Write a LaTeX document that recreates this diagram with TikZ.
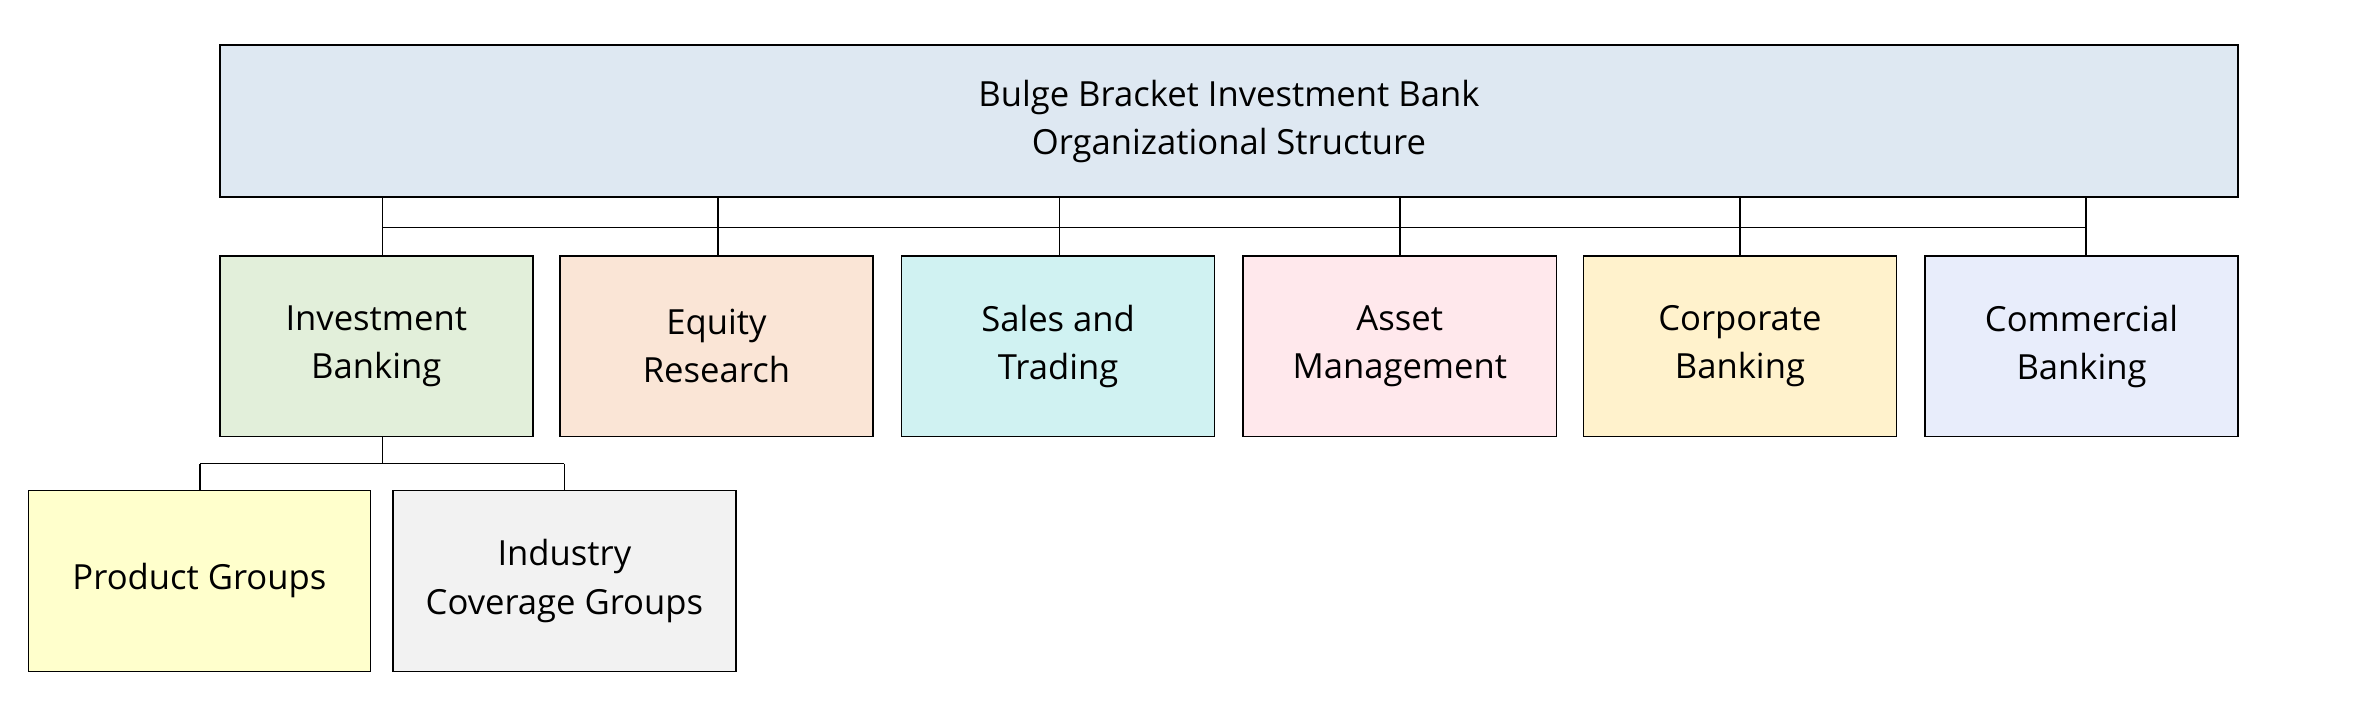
\documentclass[tikz,border=0pt]{standalone}
\usepackage{fontspec}
\setmainfont{Open Sans}
\begin{document}
\begin{tikzpicture}[x=0.5pt,y=-0.5pt,
 box/.style={draw=black,line width=0.5pt,inner sep=0pt,align=center,font=\fontsize{11.5}{16}\selectfont},
 conn/.style={draw=black,line width=0.5pt}]
\useasboundingbox (0,0) rectangle (1568,478);
\node[box,fill={rgb,255:red,222;green,232;blue,242},minimum width=670.5pt,minimum height=50.5pt] (top) at (816.5,80.5) {Bulge Bracket Investment Bank\\Organizational Structure};
\newcommand{\rowbox}[4]{\node[box,fill={rgb,255:#3},minimum width=104pt,minimum height=60pt] (#1) at (#2,230) {#4};}
\rowbox{ib}{250}{red,226;green,239;blue,218}{Investment\\Banking}
\rowbox{er}{476}{red,250;green,229;blue,214}{Equity\\Research}
\rowbox{st}{703}{red,208;green,242;blue,242}{Sales and\\Trading}
\rowbox{am}{930}{red,255;green,232;blue,236}{Asset\\Management}
\rowbox{cb}{1156}{red,255;green,242;blue,204}{Corporate\\Banking}
\rowbox{cmb}{1383}{red,232;green,237;blue,251}{Commercial\\Banking}
\node[box,fill={rgb,255:red,255;green,255;blue,204},minimum width=113.5pt,minimum height=60pt] (pg) at (132.5,386) {Product Groups};
\node[box,fill={rgb,255:red,242;green,242;blue,242},minimum width=114pt,minimum height=60pt] (icg) at (375,386) {Industry\\Coverage Groups};
\coordinate (bl) at (254,151);
\coordinate (br) at (1386,151);
\draw[conn] (bl) -- (br);
\foreach \n/\x in {ib/254,er/477,st/704,am/930,cb/1156,cmb/1386}{
  \draw[conn] (\x,0 |- top.south) -- (\x,151) -- (\x,0 |- \n.north);
}
\coordinate (j) at (254,308);
\draw[conn] (254,0 |- ib.south) -- (j);
\draw[conn] (133,308) -- (375,308);
\draw[conn] (133,308) -- (133,0 |- pg.north);
\draw[conn] (375,308) -- (375,0 |- icg.north);
\end{tikzpicture}
\end{document}
